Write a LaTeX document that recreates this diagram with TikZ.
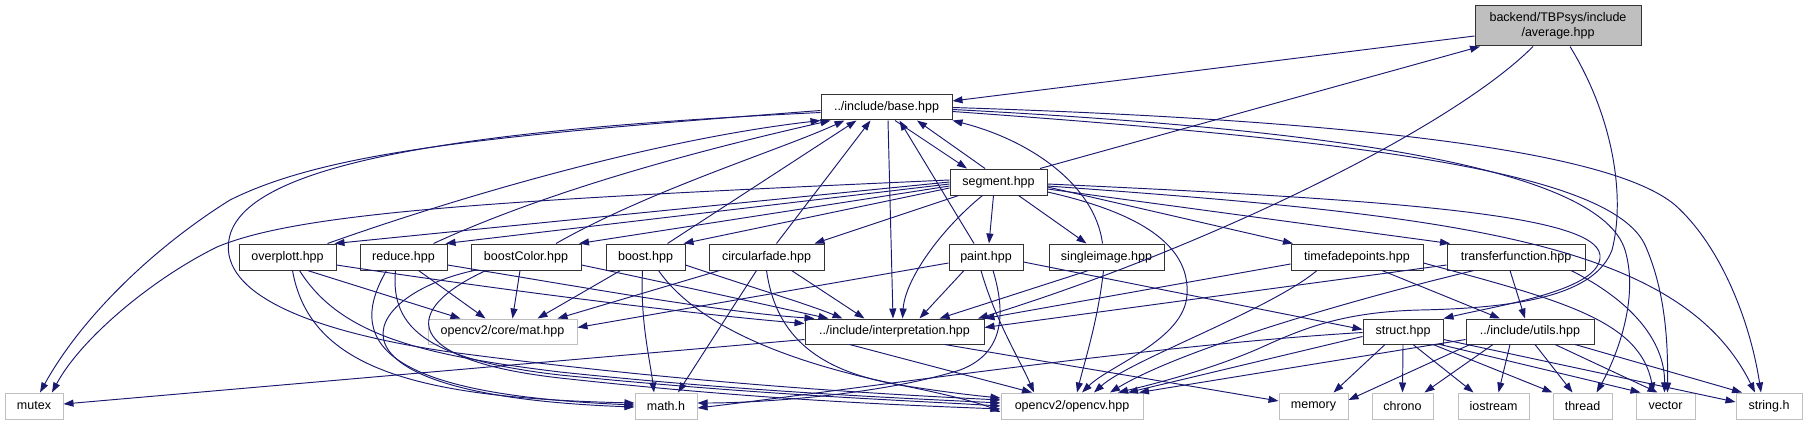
\documentclass[tikz,border=0pt]{standalone}
\usepackage{fontspec}
\setmainfont{Liberation Sans}
\usetikzlibrary{arrows.meta,calc}
\definecolor{edgeblue}{RGB}{25,25,112}
\definecolor{sysgray}{RGB}{191,191,191}
\begin{document}
\begin{tikzpicture}[x=1pt,y=-1pt,
  box/.style={draw=black!80,line width=1pt,fill=white,inner sep=0pt,font=\fontsize{12.5}{15}\selectfont,align=center},
  sysbox/.style={draw=sysgray,line width=1pt,fill=white,inner sep=0pt,font=\fontsize{12.5}{15}\selectfont},
  e/.style={draw=edgeblue,line width=0.95pt,-{Triangle[length=10pt,width=7pt]}}]
\useasboundingbox (0,0) rectangle (1806,425);
% nodes
\node[box,fill=sysgray,minimum width=166pt,minimum height=40pt] (avg) at (1558,26) {backend/TBPsys/include\\/average.hpp};
\node[box,minimum width=131pt,minimum height=25pt] (base) at (886.5,107.5) {../include/base.hpp};
\node[box,minimum width=97pt,minimum height=26pt] (seg) at (998.5,182) {segment.hpp};
\node[box,minimum width=97pt,minimum height=26pt] (overplott) at (287.5,257) {overplott.hpp};
\node[box,minimum width=87pt,minimum height=26pt] (reduce) at (403.5,257) {reduce.hpp};
\node[box,minimum width=110pt,minimum height=26pt] (boostColor) at (526,257) {boostColor.hpp};
\node[box,minimum width=79pt,minimum height=26pt] (boost) at (645.5,257) {boost.hpp};
\node[box,minimum width=115pt,minimum height=26pt] (circ) at (766.5,257) {circularfade.hpp};
\node[box,minimum width=74pt,minimum height=26pt] (paint) at (986,257) {paint.hpp};
\node[box,minimum width=115pt,minimum height=26pt] (single) at (1106.5,257) {singleimage.hpp};
\node[box,minimum width=132pt,minimum height=26pt] (timefade) at (1357,257) {timefadepoints.hpp};
\node[box,minimum width=138pt,minimum height=26pt] (transfer) at (1516,257) {transferfunction.hpp};
\node[sysbox,minimum width=149pt,minimum height=25pt] (mat) at (502.5,331.5) {opencv2/core/mat.hpp};
\node[box,minimum width=179pt,minimum height=25pt] (interp) at (894.5,331.5) {../include/interpretation.hpp};
\node[box,minimum width=80pt,minimum height=25pt] (struct) at (1403,331.5) {struct.hpp};
\node[box,minimum width=128pt,minimum height=25pt] (utils) at (1530,331.5) {../include/utils.hpp};
\node[sysbox,minimum width=58pt,minimum height=26pt] (mutex) at (34,406) {mutex};
\node[sysbox,minimum width=62pt,minimum height=26pt] (math) at (666,406) {math.h};
\node[sysbox,minimum width=142pt,minimum height=26pt] (opencv) at (1072,406) {opencv2/opencv.hpp};
\node[sysbox,minimum width=69pt,minimum height=26pt] (memory) at (1313.5,406) {memory};
\node[sysbox,minimum width=61pt,minimum height=26pt] (chrono) at (1402.5,406) {chrono};
\node[sysbox,minimum width=71pt,minimum height=26pt] (iostream) at (1493.5,406) {iostream};
\node[sysbox,minimum width=59pt,minimum height=26pt] (thread) at (1582.5,406) {thread};
\node[sysbox,minimum width=59pt,minimum height=26pt] (vector) at (1665.5,406) {vector};
\node[sysbox,minimum width=66pt,minimum height=26pt] (strh) at (1769,406) {string.h};
% average.hpp
\draw[e] ($(avg.west)+(0,10)$) -- ($(base.east)+(0,-6.5)$);
\draw[e] ($(avg.south)+(-25,0)$) .. controls (1450,130) and (1200,250) .. ($(interp.north)+(83.5,0)$);
\draw[e] ($(avg.south)+(12,0)$) .. controls (1615,120) and (1625,200) .. (1612,250) .. controls (1595,295) and (1520,308) .. (1420,310) .. controls (1340,312) and (1300,330) .. (1260,348) .. controls (1210,370) and (1150,385) .. ($(opencv.north)+(46,0)$);
% base.hpp
\draw[e] ($(base.south)+(8.5,0)$) -- ($(seg.north)+(-31.5,0)$);
\draw[e] ($(base.south)+(1.5,0)$) -- ($(interp.north)+(-1.5,0)$);
\draw[e] ($(base.west)+(0,3)$) .. controls (500,135) and (330,150) .. (230,200) .. controls (150,250) and (80,320) .. ($(mutex.north)+(6,0)$);
\draw[e] ($(base.west)+(0,5)$) .. controls (450,130) and (250,165) .. (230,235) .. controls (215,290) and (300,330) .. (450,352) .. controls (700,385) and (900,395) .. ($(opencv.west)+(0,-6)$);
\draw[e] ($(base.east)+(0,2)$) .. controls (1350,130) and (1600,170) .. (1625,250) .. controls (1640,300) and (1615,360) .. ($(thread.north)+(14,0)$);
\draw[e] ($(base.east)+(0,4)$) .. controls (1350,140) and (1610,170) .. (1645,245) .. controls (1665,290) and (1668,340) .. ($(vector.north)+(2,0)$);
\draw[e] (base.east) .. controls (1350,120) and (1610,150) .. (1675,205) .. controls (1720,245) and (1750,320) .. ($(strh.north)+(-8,0)$);
% segment.hpp
\draw[e] ($(seg.north)+(41.5,0)$) -- ($(avg.south)+(-78,0)$);
\draw[e] ($(seg.north)+(-13.5,0)$) -- ($(base.south)+(30.5,0)$);
\draw[e] ($(seg.east)+(0,2)$) .. controls (1400,200) and (1595,215) .. (1600,255) .. controls (1603,290) and (1500,305) .. (struct.north east);
\draw[e] ($(seg.east)+(0,4)$) .. controls (1450,215) and (1680,240) .. ($(strh.north)+(-14,0)$);
\draw[e] ($(seg.south)+(-5,0)$) -- ($(paint.north)+(3,0)$);
\draw[e] ($(seg.south)+(20,0)$) -- ($(single.north)+(-20,0)$);
\draw[e] ($(seg.east)+(0,5)$) -- ($(timefade.north)+(-64,0)$);
\draw[e] ($(seg.east)+(0,7)$) -- ($(transfer.north)+(-66,0)$);
\draw[e] ($(seg.south)+(-16,0)$) .. controls (940,230) and (905,280) .. ($(interp.north)+(8,0)$);
\draw[e] ($(seg.east)+(0,10)$) .. controls (1150,215) and (1190,250) .. (1187,295) .. controls (1184,340) and (1110,365) .. ($(opencv.north)+(10,0)$);
\draw[e] ($(seg.south)+(-40,0)$) -- ($(circ.north)+(48,0)$);
\draw[e] ($(seg.west)+(0,6)$) -- ($(boost.north)+(38,0)$);
\draw[e] ($(seg.west)+(0,4)$) -- ($(boostColor.north)+(53,0)$);
\draw[e] ($(seg.west)+(0,2)$) -- ($(reduce.north)+(42,0)$);
\draw[e] (seg.west) -- ($(overplott.north)+(47,0)$);
\draw[e] ($(seg.west)+(0,-2)$) .. controls (500,200) and (300,212) .. (217,247) .. controls (150,280) and (80,340) .. ($(mutex.north)+(18,0)$);
% into base.hpp
\draw[e] ($(overplott.north)+(40,0)$) .. controls (450,200) and (650,140) .. (base.south west);
\draw[e] ($(reduce.north)+(30,0)$) .. controls (550,190) and (700,150) .. ($(base.south)+(-56,0)$);
\draw[e] ($(boostColor.north)+(30,0)$) .. controls (650,190) and (780,150) .. ($(base.south)+(-42,0)$);
\draw[e] ($(boost.north)+(22,0)$) -- ($(base.south)+(-30,0)$);
\draw[e] ($(circ.north)+(10,0)$) -- ($(base.south)+(-16,0)$);
\draw[e] ($(paint.north)+(-12,0)$) -- ($(base.south)+(13,0)$);
\draw[e] ($(single.north)+(-4,0)$) .. controls (1095,185) and (1030,140) .. (base.south east);
% overplott.hpp
\draw[e] ($(overplott.south)+(20,0)$) -- ($(mat.north)+(-42,0)$);
\draw[e] ($(overplott.east)+(0,8)$) .. controls (500,290) and (700,315) .. ($(interp.west)+(0,-8)$);
\draw[e] ($(overplott.south)+(5,0)$) .. controls (310,370) and (420,398) .. ($(math.west)+(0,-3)$);
\draw[e] ($(overplott.south)+(12,0)$) .. controls (340,335) and (420,355) .. (560,372) .. controls (750,392) and (900,398) .. ($(opencv.west)+(0,-3)$);
% reduce.hpp
\draw[e] ($(reduce.south)+(15,0)$) -- ($(mat.north)+(-17,0)$);
\draw[e] ($(reduce.east)+(0,8)$) .. controls (600,290) and (720,312) .. ($(interp.north)+(-80,0)$);
\draw[e] ($(reduce.south)+(-17,0)$) .. controls (340,350) and (400,395) .. ($(math.west)+(0,-1)$);
\draw[e] ($(reduce.south)+(-8,0)$) .. controls (390,330) and (430,360) .. (560,375) .. controls (760,395) and (900,400) .. (opencv.west);
% boostColor.hpp
\draw[e] ($(boostColor.south)+(-6,0)$) -- ($(mat.north)+(10,0)$);
\draw[e] ($(boostColor.east)+(0,8)$) .. controls (700,290) and (780,308) .. ($(interp.north)+(-66,0)$);
\draw[e] ($(boostColor.south)+(-52,0)$) .. controls (360,295) and (300,395) .. ($(math.west)+(0,1)$);
\draw[e] ($(boostColor.south)+(-40,0)$) .. controls (400,310) and (400,360) .. (560,378) .. controls (760,400) and (900,405) .. ($(opencv.west)+(0,3)$);
% boost.hpp
\draw[e] ($(boost.south)+(-25,0)$) -- ($(mat.north)+(35,0)$);
\draw[e] ($(boost.east)+(0,8)$) .. controls (760,290) and (810,305) .. ($(interp.north)+(-52,0)$);
\draw[e] ($(boost.south)+(-3,0)$) .. controls (640,320) and (650,360) .. ($(math.north)+(-12,0)$);
\draw[e] ($(boost.south)+(13,0)$) .. controls (700,330) and (800,365) .. (900,385) .. controls (950,395) and (980,403) .. ($(opencv.west)+(0,6)$);
% circularfade.hpp
\draw[e] ($(circ.south)+(-47,0)$) -- ($(mat.north)+(55,0)$);
\draw[e] ($(circ.south)+(25,0)$) -- ($(interp.north)+(-30,0)$);
\draw[e] ($(circ.south)+(-10,0)$) -- ($(math.north)+(12,0)$);
\draw[e] (circ.south) .. controls (775,330) and (810,370) .. (900,385) .. controls (950,393) and (980,396) .. ($(opencv.west)+(0,-8)$);
% paint.hpp
\draw[e] ($(paint.west)+(0,6)$) -- ($(mat.east)+(0,-4)$);
\draw[e] ($(paint.south)+(-22,0)$) -- ($(interp.north)+(25,0)$);
\draw[e] ($(paint.south)+(-5,0)$) .. controls (995,320) and (1020,360) .. ($(opencv.north)+(-38,0)$);
\draw[e] ($(paint.south)+(7,0)$) .. controls (1008,320) and (1000,355) .. (960,370) .. controls (880,395) and (760,403) .. ($(math.east)+(0,-3)$);
\draw[e] ($(paint.east)+(0,5)$) -- ($(struct.west)+(0,-2)$);
% singleimage.hpp
\draw[e] ($(single.south)+(-18,0)$) -- ($(interp.north)+(45,0)$);
\draw[e] ($(single.south)+(-3,0)$) .. controls (1098,320) and (1085,360) .. ($(opencv.north)+(5,0)$);
% timefadepoints.hpp
\draw[e] ($(timefade.west)+(0,7)$) -- (interp.north east);
\draw[e] ($(timefade.south)+(-40,0)$) .. controls (1270,310) and (1130,360) .. ($(opencv.north)+(22,0)$);
\draw[e] ($(timefade.south)+(25,0)$) -- ($(utils.north)+(-30,0)$);
\draw[e] ($(timefade.east)+(0,6)$) .. controls (1560,300) and (1640,320) .. ($(vector.north)+(-12,0)$);
% transferfunction.hpp
\draw[e] ($(transfer.west)+(0,8)$) -- ($(interp.east)+(0,-4)$);
\draw[e] ($(transfer.south)+(-42,0)$) .. controls (1350,300) and (1180,350) .. ($(opencv.north)+(38,0)$);
\draw[e] ($(transfer.south)+(-6,0)$) -- ($(utils.north)+(-5,0)$);
\draw[e] ($(transfer.south)+(55,0)$) .. controls (1630,300) and (1665,340) .. ($(vector.north)+(-1,0)$);
% interpretation.hpp
\draw[e] ($(interp.west)+(0,8)$) -- ($(mutex.east)+(0,-2)$);
\draw[e] ($(interp.south)+(-45,0)$) -- ($(opencv.north)+(-40,0)$);
\draw[e] ($(interp.south)+(50,0)$) -- ($(memory.west)+(0,-5)$);
% struct.hpp
\draw[e] ($(struct.south)+(-18,0)$) -- ($(memory.north)+(20,0)$);
\draw[e] (struct.south) -- (chrono.north);
\draw[e] ($(struct.south)+(10,0)$) -- ($(iostream.north)+(-20,0)$);
\draw[e] ($(struct.south)+(30,0)$) -- (thread.north west);
\draw[e] ($(struct.south)+(37,0)$) -- ($(vector.north)+(-25,0)$);
\draw[e] ($(struct.east)+(0,8)$) -- ($(strh.west)+(0,-4)$);
\draw[e] ($(struct.west)+(0,5)$) -- ($(opencv.north)+(56,0)$);
\draw[e] ($(struct.west)+(0,1)$) .. controls (1150,345) and (850,390) .. ($(math.east)+(0,2)$);
% utils.hpp
\draw[e] ($(utils.south)+(-60,0)$) -- ($(memory.east)+(0,-6)$);
\draw[e] ($(utils.south)+(-37,0)$) -- ($(chrono.north)+(22,0)$);
\draw[e] ($(utils.south)+(-20,0)$) -- ($(iostream.north)+(5,0)$);
\draw[e] ($(utils.south)+(5,0)$) -- ($(thread.north)+(-10,0)$);
\draw[e] ($(utils.south)+(25,0)$) -- ($(vector.north)+(-8,0)$);
\draw[e] ($(utils.south)+(45,0)$) -- ($(strh.north)+(-27,0)$);
\draw[e] ($(utils.west)+(0,8)$) -- ($(opencv.north)+(67,0)$);
\end{tikzpicture}
\end{document}
